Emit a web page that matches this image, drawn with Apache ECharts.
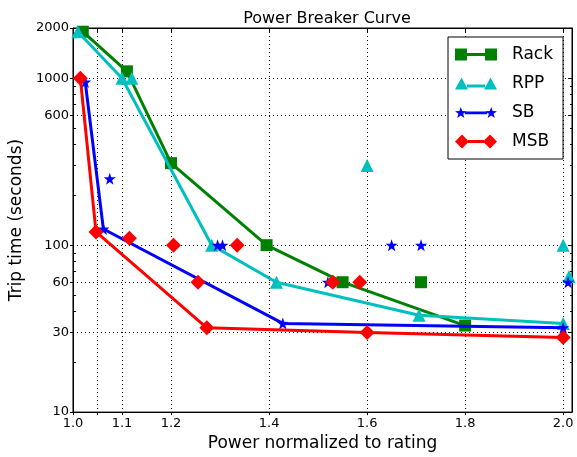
<!DOCTYPE html>
<html>
<head>
<meta charset="utf-8">
<script src="https://cdn.jsdelivr.net/npm/echarts@6/dist/echarts.min.js"></script>
<style>
  html, body { margin: 0; padding: 0; background: #fff; }
  #chart { width: 577px; height: 457px; }
</style>
</head>
<body>
<div id="chart"></div>
<script>
// curve points (line + markers)
var rackX = [1.02, 1.11, 1.2, 1.395, 1.55, 1.8];
var rackY = [1900, 1100, 310, 100, 60, 33];
var rppX = [1.01, 1.1, 1.283, 1.415, 1.706, 2.0];
var rppY = [1900, 1000, 100, 60, 38, 34];
var sbX = [1.025, 1.062, 1.428, 2.0];
var sbY = [950, 125, 34, 32];
var msbX = [1.015, 1.047, 1.273, 1.6, 2.0];
var msbY = [1000, 120, 32, 30, 28];

// loose measured points (markers only)
var rackPtsX = [1.71];
var rackPtsY = [60];
var rppPtsX = [1.12, 1.6, 2.0, 2.012];
var rppPtsY = [1000, 300, 100, 65];
var sbPtsX = [1.075, 1.295, 1.305, 1.52, 1.65, 1.71, 2.01];
var sbPtsY = [250, 100, 100, 60, 100, 100, 60];
var msbPtsX = [1.115, 1.205, 1.335, 1.255, 1.53, 1.585];
var msbPtsY = [110, 100, 100, 60, 60, 60];

var xTicks = [1.0, 1.05, 1.1, 1.2, 1.4, 1.6, 1.8, 2.0];
var xLabels = [1.0, 1.1, 1.2, 1.4, 1.6, 1.8, 2.0];
var yTicks = [10, 30, 60, 100, 600, 1000, 2000];
var yMinor = [20, 40, 50, 70, 80, 90, 200, 300, 400, 500, 700, 800, 900];

var FONT = 'DejaVu Sans';
var starPath = 'path://M6,0 L7.41,4.06 L11.71,4.15 L8.28,6.74 L9.53,10.85 L6,8.4 L2.47,10.85 L3.72,6.74 L0.29,4.15 L4.59,4.06 Z';

// legend icons: marker - line - marker
var iconRack = 'path://M0,0h12v12h-12z M12,4.5h18v3h-18z M30,0h12v12h-12z';
var iconRpp = 'path://M0,12 L6.5,0 L13,12 Z M12,7h18v3h-18z M29,12 L35.5,0 L42,12 Z';
var iconSb = 'path://M6,0 L7.41,4.06 L11.71,4.15 L8.28,6.74 L9.53,10.85 L6,8.4 L2.47,10.85 L3.72,6.74 L0.29,4.15 L4.59,4.06 Z' +
  ' M10,4.5h22v2.6h-22z' +
  ' M36,0 L37.41,4.06 L41.71,4.15 L38.28,6.74 L39.53,10.85 L36,8.4 L32.47,10.85 L33.72,6.74 L30.29,4.15 L34.59,4.06 Z';
var iconMsb = 'path://M0,7 L7,0 L14,7 L7,14 Z M13,5.5h16v3h-16z M28,7 L35,0 L42,7 L35,14 Z';

function pairs(xs, ys) {
  return xs.map(function (x, i) { return [x, ys[i]]; });
}

var chart = echarts.init(document.getElementById('chart'));

var dotted = { color: '#000', width: 1, type: [1, 3] };
var black = { color: '#000', width: 1 };

function lineSeries(name, xs, ys, color, symbol, size, z) {
  return {
    name: name, type: 'line', data: pairs(xs, ys),
    symbol: symbol, symbolSize: size, showSymbol: true,
    lineStyle: { color: color, width: 3 },
    itemStyle: { color: color },
    z: z, animation: false
  };
}
function ptsSeries(name, xs, ys, color, symbol, size, z) {
  return {
    name: name, type: 'scatter', data: pairs(xs, ys),
    symbol: symbol, symbolSize: size,
    itemStyle: { color: color, opacity: 1 },
    z: z, animation: false
  };
}

var option = {
  animation: false,
  textStyle: { fontFamily: FONT },
  title: {
    text: 'Power Breaker Curve', left: 322, top: 6, textAlign: 'center',
    textStyle: { fontFamily: FONT, fontSize: 16, fontWeight: 'normal', color: '#000' }
  },
  grid: { left: 70, right: 5, top: 28, bottom: 40, show: true, borderColor: '#000', borderWidth: 1 },
  legend: {
    orient: 'vertical', left: 448, top: 37,
    padding: [9, 10, 9, 7], itemGap: 12,
    itemWidth: 42, itemHeight: 14,
    backgroundColor: '#fff', borderColor: '#000', borderWidth: 1,
    textStyle: { fontFamily: FONT, fontSize: 17, color: '#000', padding: [0, 0, 0, 10] },
    data: [
      { name: 'Rack', icon: iconRack },
      { name: 'RPP', icon: iconRpp },
      { name: 'SB', icon: iconSb },
      { name: 'MSB', icon: iconMsb }
    ]
  },
  xAxis: [{
    type: 'value', min: 1.0, max: 2.018, position: 'bottom',
    name: 'Power normalized to rating', nameLocation: 'middle', nameGap: 21,
    nameTextStyle: { fontFamily: FONT, fontSize: 17, color: '#000' },
    axisLine: { show: true, lineStyle: black },
    axisTick: { show: true, inside: false, length: 3, customValues: xTicks, lineStyle: black },
    axisLabel: {
      customValues: xLabels, margin: 5, color: '#000', fontFamily: FONT, fontSize: 13,
      formatter: function (v) {
        return xLabels.some(function (t) { return Math.abs(t - v) < 1e-6; }) ? v.toFixed(1) : '';
      }
    },
    splitLine: { show: true, lineStyle: dotted }
  }, {
    type: 'value', min: 1.0, max: 2.018, position: 'top',
    axisLine: { show: true, lineStyle: black },
    axisTick: { show: true, inside: true, length: 4, customValues: xTicks, lineStyle: black },
    axisLabel: { show: false },
    splitLine: { show: false }
  }],
  yAxis: [{
    type: 'log', logBase: 10, min: 10, max: 2000, position: 'left',
    name: 'Trip time (seconds)', nameLocation: 'middle', nameGap: 44,
    nameTextStyle: { fontFamily: FONT, fontSize: 17, color: '#000' },
    axisLine: { show: true, lineStyle: black },
    axisTick: { show: true, inside: false, length: 3, customValues: yTicks, lineStyle: black },
    axisLabel: {
      customValues: yTicks, margin: 4, color: '#000', fontFamily: FONT, fontSize: 13,
      formatter: function (v) { return String(Math.round(v)); }
    },
    splitLine: { show: true, lineStyle: dotted }
  }, {
    type: 'log', logBase: 10, min: 10, max: 2000, position: 'left',
    axisLine: { show: false },
    axisTick: { show: true, inside: true, length: 3, customValues: yMinor, lineStyle: black },
    axisLabel: { show: false },
    splitLine: { show: false }
  }, {
    type: 'log', logBase: 10, min: 10, max: 2000, position: 'right',
    axisLine: { show: true, lineStyle: black },
    axisTick: { show: true, inside: true, length: 4, customValues: yTicks, lineStyle: black },
    axisLabel: { show: false },
    splitLine: { show: false }
  }, {
    type: 'log', logBase: 10, min: 10, max: 2000, position: 'right',
    axisLine: { show: false },
    axisTick: { show: true, inside: true, length: 2, customValues: yMinor, lineStyle: black },
    axisLabel: { show: false },
    splitLine: { show: false }
  }],
  series: [
    lineSeries('Rack', rackX, rackY, '#008000', 'rect', 12, 2),
    lineSeries('RPP', rppX, rppY, '#00bfbf', 'triangle', 13, 3),
    lineSeries('SB', sbX, sbY, '#0000ff', starPath, 12, 4),
    lineSeries('MSB', msbX, msbY, '#ff0000', 'diamond', 15, 5),
    ptsSeries('Rack pts', rackPtsX, rackPtsY, '#008000', 'rect', 12, 6),
    ptsSeries('RPP pts', rppPtsX, rppPtsY, '#00bfbf', 'triangle', 13, 6),
    ptsSeries('SB pts', sbPtsX, sbPtsY, '#0000ff', starPath, 12, 6),
    ptsSeries('MSB pts', msbPtsX, msbPtsY, '#ff0000', 'diamond', 15, 6)
  ]
};

chart.setOption(option);
</script>
</body>
</html>
